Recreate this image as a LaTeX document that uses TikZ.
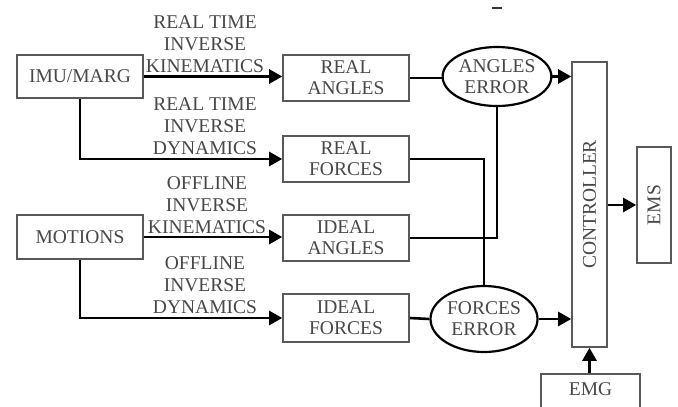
\documentclass[tikz,border=0pt]{standalone}
\usepackage{fontspec}
\setmainfont{Liberation Serif}
\usetikzlibrary{arrows.meta,shapes.geometric}
\definecolor{boxgray}{gray}{0.35}
\definecolor{txtgray}{gray}{0.28}
\tikzset{
  blk/.style={draw=boxgray,line width=1.6pt,minimum width=126pt,minimum height=45pt,inner sep=0pt,align=center,text=txtgray,font=\fontsize{19.5}{21}\selectfont},
  oval/.style={draw=black,line width=2.2pt,ellipse,inner sep=0pt,align=center,text=txtgray,font=\fontsize{19.5}{21}\selectfont},
  lbl/.style={align=center,text=txtgray,font=\fontsize{19.5}{22}\selectfont,inner sep=0pt},
  vtxt/.style={rotate=90,text=txtgray,font=\fontsize{19.5}{21}\selectfont},
  conn/.style={line width=2.6pt,black},
  arr/.style={conn,-{Triangle[length=13pt,width=14pt]}}
}
\begin{document}
\begin{tikzpicture}[x=1pt,y=-1pt]
\useasboundingbox (0,0) rectangle (678,407);
% boxes
\node[blk,minimum height=43pt] (imu) at (80,76.5) {IMU/MARG};
\node[blk,minimum height=44pt] (mot) at (80,237) {MOTIONS};
\node[blk,minimum height=46pt] (ra) at (346,78) {REAL\\ANGLES};
\node[blk,minimum height=46pt] (rf) at (346,159) {REAL\\FORCES};
\node[blk,minimum height=46pt] (ia) at (346,238) {IDEAL\\ANGLES};
\node[blk,minimum height=48pt] (if) at (346,318) {IDEAL\\FORCES};
\node[oval,minimum width=105pt,minimum height=59pt] (ae) at (497,76.5) {ANGLES\\ERROR};
\node[oval,minimum width=107pt,minimum height=66pt] (fe) at (484,319) {FORCES\\ERROR};
\node[blk,minimum width=35pt,minimum height=285pt] (ctl) at (589.5,204.5) {};
\node[vtxt] (ctltxt) at (ctl.center) {CONTROLLER};
\node[blk,minimum width=34pt,minimum height=116pt] (ems) at (654,205) {};
\node[vtxt] (emstxt) at (ems.center) {EMS};
\node[blk,minimum width=99pt,minimum height=40pt,anchor=north] (emg) at (590.5,373) {\raisebox{10pt}{EMG}};
% labels
\node[lbl] (l1) at (205,44) {REAL TIME\\INVERSE\\KINEMATICS};
\node[lbl] (l2) at (205,126.5) {REAL TIME\\INVERSE\\DYNAMICS};
\node[lbl] (l3) at (207,205) {OFFLINE\\INVERSE\\KINEMATICS};
\node[lbl] (l4) at (205,285.5) {OFFLINE\\INVERSE\\DYNAMICS};
% stray mark
\coordinate (m1) at (492,8);
\coordinate (m2) at (502,8);
\draw[line width=2pt,black!80] (m1) -- (m2);
% connectors
\draw[arr] (imu.east) -- (ra.west |- imu.east);
\draw[arr] (imu.south) -- (imu.south |- rf.west) -- (rf.west);
\draw[arr] (mot.east) -- (ia.west |- mot.east);
\draw[arr] (mot.south) -- (mot.south |- if.west) -- (if.west);
\draw[conn] (ra.east) -- (ae.west |- ra.east);
\draw[arr] (ae.east) -- (ctl.west |- ae.east);
\draw[conn] (ia.east) -- (ae.south |- ia.east) -- (ae.south);
\draw[conn] (rf.east) -- (fe.north |- rf.east) -- (fe.north);
\draw[conn] (if.east) -- (fe.west);
\draw[arr] (fe.east) -- (ctl.west |- fe.east);
\draw[arr] (ctl.east |- ems.west) -- (ems.west);
\draw[arr] (emg.north -| ctl.south) -- (ctl.south);
\end{tikzpicture}
\end{document}
